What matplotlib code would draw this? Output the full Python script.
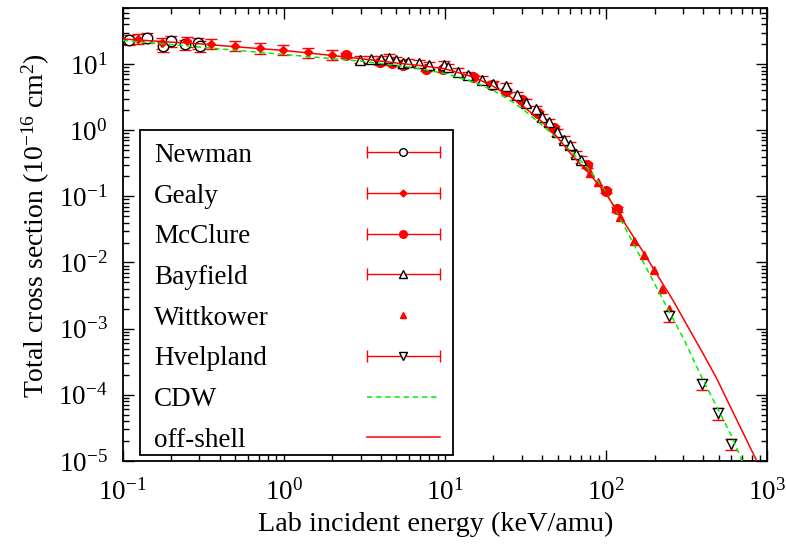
import numpy as np
import matplotlib
matplotlib.use("Agg")
import matplotlib.pyplot as plt
from matplotlib.lines import Line2D
from matplotlib.patches import Rectangle
from matplotlib.legend_handler import HandlerLine2D
from matplotlib.ticker import LogLocator, FuncFormatter, NullFormatter

plt.rcParams['font.family'] = ['Liberation Serif', 'DejaVu Serif']
plt.rcParams['mathtext.fontset'] = 'custom'
plt.rcParams['mathtext.rm'] = 'Liberation Serif'
plt.rcParams['mathtext.it'] = 'Liberation Serif:italic'
plt.rcParams['mathtext.bf'] = 'Liberation Serif:bold'

# experimental data (keV/amu, 1e-16 cm^2)
newman_e = [0.110, 0.141, 0.177, 0.200, 0.244, 0.295, 0.302]
newman_s = [23.4, 25.1, 18.5, 22.2, 19.9, 20.7, 18.7]

gealy_e = [0.125, 0.175, 0.25, 0.352, 0.498, 0.711, 0.993, 1.42, 1.99]
gealy_s = [24.2, 20.7, 22.0, 20.3, 19.1, 17.6, 16.5, 15.1, 13.9]

mcclure_e = [2.43, 3.96, 4.68, 5.52, 7.64, 9.78, 15.0, 19.5, 23.9, 30.0,
             38.0, 47.5, 75.9, 100.0, 116.5]
mcclure_s = [13.5, 10.7, 10.4, 9.55, 8.53, 8.40, 6.37, 4.90, 3.94, 2.86,
             1.82, 1.09, 0.295, 0.121, 0.0633]

bayfield_e = [2.97, 3.48, 4.01, 4.48, 4.97, 5.47, 5.93, 6.94, 7.94, 9.87,
              10.5, 12.0, 14.0, 16.9, 20.0, 23.9, 27.9, 31.9, 36.8, 39.9,
              44.5, 49.9, 54.9, 59.8, 65.2, 69.7]
bayfield_s = [11.7, 11.8, 11.9, 12.5, 11.4, 10.4, 10.6, 10.4, 9.7, 9.8,
              9.0, 7.7, 6.87, 5.83, 4.93, 4.60, 3.40, 2.62, 2.08, 1.58,
              1.33, 0.94, 0.72, 0.59, 0.44, 0.36]

wittkower_e = [79.6, 89.6, 123, 150, 173, 199, 223, 247]
wittkower_s = [0.225, 0.165, 0.0489, 0.021, 0.0132, 0.00765, 0.00395, 0.00195]

hvelpland_e = [247, 396, 494, 594]
hvelpland_s = [0.00155, 1.45e-4, 5.24e-5, 1.8e-5]

# relative error bars
newman_err = 0.18
gealy_err = 0.18
mcclure_err = 0.08
bayfield_err = 0.12
hvelpland_err = 0.2

# theory curves
cdw_e = [0.1, 0.2, 0.3, 0.5, 1, 2, 3, 5, 7, 10, 15, 20, 25, 30, 40, 50, 60,
         70, 80, 100, 130, 160, 200, 250, 300, 400, 500, 600, 700, 800]
cdw_s = [22.8, 19.8, 18.1, 16.2, 14.0, 12.1, 11.1, 9.6, 8.5, 7.2, 5.4, 4.0,
         2.9, 2.15, 1.2, 0.75, 0.49, 0.34, 0.24, 0.115, 0.035, 0.0135,
         0.0048, 0.0017, 7.4e-4, 1.67e-4, 5.8e-5, 2.4e-5, 1.0e-5, 5e-6]

off_e = [0.1, 0.2, 0.3, 0.5, 1, 2, 3, 5, 7, 10, 15, 20, 25, 30, 40, 50, 60,
         80, 100, 130, 170, 220, 260, 300, 400, 486, 600, 700, 861, 1000]
off_s = [24.0, 21.5, 20.3, 18.3, 16.1, 13.5, 12.1, 10.4, 9.5, 8.5, 6.4, 4.6,
         3.3, 2.4, 1.35, 0.78, 0.45, 0.21, 0.11, 0.040, 0.0145, 0.0052,
         0.0027, 0.00145, 4.2e-4, 1.77e-4, 6.1e-5, 2.83e-5, 1.0e-5, 4.7e-6]

RED = '#ff0000'
GREEN = '#00ee00'

fig = plt.figure(figsize=(7.86, 5.48), dpi=100)
ax = fig.add_axes([0.156, 0.159, 0.82, 0.826])


def with_err(e, s, frac, **kw):
    s = np.array(s)
    ax.errorbar(e, s, yerr=s * frac, fmt='none', ecolor=RED, elinewidth=1,
                capsize=4, capthick=1, zorder=2)
    ax.plot(e, s, ls='none', zorder=3, **kw)


with_err(newman_e, newman_s, newman_err, marker='o', ms=7.5, mfc='white',
         mec='black', mew=1)
with_err(gealy_e, gealy_s, gealy_err, marker='D', ms=4.5, mfc=RED, mec=RED)
with_err(mcclure_e, mcclure_s, mcclure_err, marker='o', ms=7, mfc=RED,
         mec=RED)
with_err(bayfield_e, bayfield_s, bayfield_err, marker='^', ms=7.5,
         mfc='white', mec='black', mew=1)
ax.plot(wittkower_e, wittkower_s, ls='none', marker='^', ms=5.5, mfc=RED,
        mec=RED, zorder=3)
with_err(hvelpland_e, hvelpland_s, hvelpland_err, marker='v', ms=7.5,
         mfc='white', mec='black', mew=1)

cdw_line, = ax.plot(cdw_e, cdw_s, color=GREEN, lw=1.1, ls=(0, (3.5, 2.5)),
                    zorder=4)
off_line, = ax.plot(off_e, off_s, color=RED, lw=1.1, zorder=4)

ax.set_xscale('log')
ax.set_yscale('log')
ax.set_xlim(0.1, 1000)
ax.set_ylim(1e-5, 70)

fmt = FuncFormatter(lambda v, p: r'$10^{%d}$' % int(round(np.log10(v))))
ax.xaxis.set_major_locator(LogLocator(base=10, numticks=20))
ax.yaxis.set_major_locator(LogLocator(base=10, numticks=20))
ax.xaxis.set_minor_locator(LogLocator(base=10, subs=np.arange(2, 10), numticks=20))
ax.yaxis.set_minor_locator(LogLocator(base=10, subs=np.arange(2, 10), numticks=20))
ax.xaxis.set_major_formatter(fmt)
ax.yaxis.set_major_formatter(fmt)
ax.xaxis.set_minor_formatter(NullFormatter())
ax.yaxis.set_minor_formatter(NullFormatter())

ax.tick_params(which='both', direction='in', top=True, right=True,
               width=1, labelsize=19.5)
ax.tick_params(which='major', length=8)
ax.tick_params(which='minor', length=4)
ax.tick_params(axis='x', pad=13)
ax.tick_params(axis='y', pad=11)
for sp in ax.spines.values():
    sp.set_linewidth(1.3)

ax.set_xlabel('Lab incident energy (keV/amu)', fontsize=20.3)
ax.set_ylabel(r'Total cross section (10$^{-16}$ cm$^{2}$)', fontsize=20)
ax.xaxis.set_label_coords(0.486, -0.112)
ax.yaxis.set_label_coords(-0.11, 0.519)

# legend frame drawn as a plain box
ax.add_patch(Rectangle((0.0269, 0.0132), 0.4857, 0.7175, transform=ax.transAxes,
                       facecolor='white', edgecolor='black', lw=1.3,
                       zorder=4.9))

# legend proxies (gnuplot style: text left, sample right)
caps_handler = HandlerLine2D(numpoints=2, marker_pad=0)


def eb_handle(**kw):
    caps = Line2D([], [], color=RED, lw=1, marker='|', ms=9, mew=1)
    mark = Line2D([], [], ls='none', **kw)
    return (caps, mark), caps


handles = []
hmap = {}
for kw in [dict(marker='o', ms=5.5, mfc='white', mec='black', mew=1),
           dict(marker='D', ms=3.5, mfc=RED, mec=RED),
           dict(marker='o', ms=5.5, mfc=RED, mec=RED),
           dict(marker='^', ms=5.5, mfc='white', mec='black', mew=1)]:
    h, c = eb_handle(**kw)
    handles.append(h)
    hmap[c] = caps_handler
handles.append(Line2D([], [], ls='none', marker='^', ms=4.5, mfc=RED, mec=RED))
h, c = eb_handle(marker='v', ms=5.5, mfc='white', mec='black', mew=1)
handles.append(h)
hmap[c] = caps_handler
handles.append(cdw_line)
handles.append(off_line)

labels = ['Newman', 'Gealy', 'McClure', 'Bayfield', 'Wittkower', 'Hvelpland',
          'CDW', 'off-shell']

leg = ax.legend(handles, labels, loc='upper left',
                bbox_to_anchor=(0.0317, 0.7266), borderaxespad=0,
                markerfirst=False, handlelength=2.7, handletextpad=0.5,
                labelspacing=0.58, borderpad=0.4, frameon=False,
                numpoints=1, fontsize=19.5, handler_map=hmap)
# stretch rows so text sits left and samples right
for col in leg._legend_handle_box.get_children():
    for row in col.get_children():
        row.mode = 'expand'
        row.width = 286

fig.savefig('out.png', dpi=100)
